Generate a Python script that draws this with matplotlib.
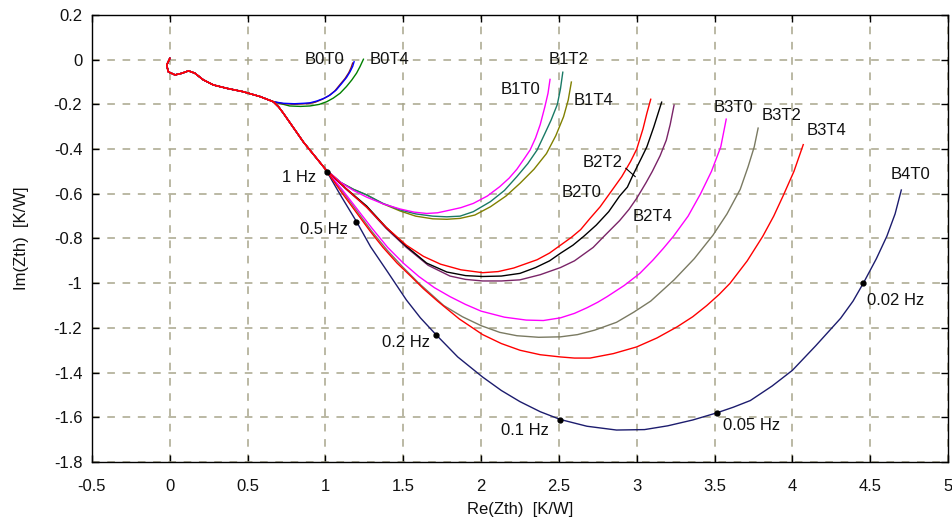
import matplotlib
matplotlib.use("Agg")
import matplotlib.pyplot as plt

plt.rcParams['font.family'] = ['Liberation Sans', 'DejaVu Sans']

# shared low-impedance start (common to all curves)
start_re = [0.0, -0.02, -0.01, 0.033, 0.076, 0.12, 0.16, 0.215, 0.28, 0.366, 0.47, 0.58, 0.665]
start_im = [0.006, -0.024, -0.054, -0.068, -0.061, -0.05, -0.06, -0.09, -0.113, -0.128, -0.143, -0.165, -0.188]

# common descending trunk for B1..B4
trunk_re = [0.70, 0.73, 0.79, 0.86, 0.93]
trunk_im = [-0.212, -0.24, -0.30, -0.37, -0.43]

b0t0_re = [0.73, 0.80, 0.86, 0.90, 0.944, 0.99, 1.03, 1.07, 1.105, 1.135, 1.158, 1.175, 1.184]
b0t0_im = [-0.195, -0.197, -0.195, -0.193, -0.185, -0.173, -0.158, -0.135, -0.106, -0.08, -0.054, -0.03, -0.009]
b0t2_re = [0.73, 0.80, 0.85, 0.89, 0.935, 0.98, 1.02, 1.06, 1.095, 1.125, 1.15, 1.165, 1.175]
b0t2_im = [-0.197, -0.199, -0.198, -0.196, -0.19, -0.177, -0.162, -0.14, -0.11, -0.085, -0.058, -0.035, -0.015]
b0t4_re = [0.77, 0.84, 0.90, 0.96, 1.008, 1.05, 1.094, 1.135, 1.169, 1.20, 1.222, 1.244]
b0t4_im = [-0.207, -0.209, -0.207, -0.20, -0.188, -0.172, -0.15, -0.12, -0.091, -0.06, -0.031, 0.002]

b1t0_re = [1.0, 1.1, 1.18, 1.265, 1.37, 1.48, 1.57, 1.65, 1.72, 1.78, 1.87, 1.95, 2.04, 2.12, 2.18, 2.23,
           2.28, 2.315, 2.35, 2.38, 2.41, 2.43, 2.443]
b1t0_im = [-0.49, -0.55, -0.585, -0.615, -0.645, -0.668, -0.682, -0.688, -0.685, -0.676, -0.662, -0.643, -0.61,
           -0.568, -0.53, -0.49, -0.44, -0.404, -0.35, -0.29, -0.21, -0.15, -0.088]
b1t2_re = [1.0, 1.1, 1.18, 1.265, 1.37, 1.48, 1.58, 1.69, 1.78, 1.865, 1.95, 2.06, 2.15, 2.23, 2.30, 2.36,
           2.41, 2.45, 2.49, 2.51, 2.525]
b1t2_im = [-0.49, -0.55, -0.58, -0.605, -0.643, -0.672, -0.69, -0.70, -0.703, -0.70, -0.68, -0.635, -0.585,
           -0.523, -0.465, -0.404, -0.33, -0.27, -0.20, -0.13, -0.056]
b1t4_re = [1.0, 1.1, 1.18, 1.265, 1.37, 1.48, 1.58, 1.69, 1.78, 1.865, 1.96, 2.06, 2.16, 2.25, 2.34, 2.42,
           2.48, 2.53, 2.56, 2.58]
b1t4_im = [-0.49, -0.55, -0.58, -0.605, -0.645, -0.677, -0.70, -0.712, -0.714, -0.71, -0.695, -0.658, -0.61,
           -0.553, -0.49, -0.42, -0.34, -0.255, -0.18, -0.10]

b2t0_re = [1.0, 1.13, 1.265, 1.39, 1.52, 1.63, 1.74, 1.87, 2.01, 2.11, 2.21, 2.36, 2.44, 2.51, 2.58, 2.64,
           2.70, 2.765, 2.83, 2.904, 2.96, 3.0, 3.04, 3.065, 3.09]
b2t0_im = [-0.49, -0.575, -0.66, -0.75, -0.83, -0.88, -0.915, -0.94, -0.953, -0.948, -0.932, -0.895, -0.865,
           -0.83, -0.795, -0.76, -0.71, -0.658, -0.595, -0.523, -0.456, -0.40, -0.31, -0.24, -0.177]
b2t2_re = [1.0, 1.13, 1.265, 1.39, 1.52, 1.65, 1.78, 1.90, 2.01, 2.13, 2.25, 2.35, 2.44, 2.51, 2.59, 2.66,
           2.74, 2.82, 2.89, 2.94, 2.98, 3.03, 3.065, 3.11, 3.16]
b2t2_im = [-0.49, -0.575, -0.655, -0.75, -0.835, -0.91, -0.95, -0.966, -0.97, -0.968, -0.956, -0.93, -0.90,
           -0.866, -0.83, -0.79, -0.74, -0.68, -0.61, -0.57, -0.51, -0.44, -0.39, -0.30, -0.19]
b2t4_re = [1.0, 1.13, 1.265, 1.39, 1.52, 1.66, 1.80, 1.90, 2.01, 2.13, 2.25, 2.38, 2.51, 2.60, 2.72, 2.79,
           2.89, 2.95, 3.0, 3.06, 3.10, 3.15, 3.19, 3.215, 3.24]
b2t4_im = [-0.49, -0.578, -0.66, -0.755, -0.84, -0.92, -0.968, -0.983, -0.99, -0.99, -0.985, -0.962, -0.93,
           -0.90, -0.84, -0.79, -0.72, -0.67, -0.62, -0.55, -0.50, -0.43, -0.36, -0.29, -0.203]

b3t0_re = [1.0, 1.1, 1.2, 1.3, 1.4, 1.5, 1.6, 1.70, 1.80, 1.90, 2.0, 2.15, 2.29, 2.40, 2.51, 2.60, 2.68,
           2.75, 2.81, 2.92, 3.02, 3.105, 3.17, 3.236, 3.33, 3.41, 3.48, 3.54, 3.575]
b3t0_im = [-0.49, -0.575, -0.665, -0.755, -0.84, -0.91, -0.97, -1.02, -1.06, -1.095, -1.125, -1.152, -1.165,
           -1.167, -1.155, -1.135, -1.11, -1.085, -1.06, -1.01, -0.956, -0.896, -0.845, -0.79, -0.70, -0.60,
           -0.50, -0.39, -0.266]
b3t2_re = [1.0, 1.1, 1.2, 1.3, 1.4, 1.5, 1.6, 1.68, 1.76, 1.88, 2.0, 2.12, 2.23, 2.37, 2.51, 2.62, 2.73,
           2.87, 2.98, 3.09, 3.24, 3.37, 3.49, 3.58, 3.665, 3.715, 3.755, 3.78]
b3t2_im = [-0.49, -0.58, -0.675, -0.77, -0.855, -0.93, -1.0, -1.05, -1.10, -1.15, -1.19, -1.22, -1.235,
           -1.242, -1.24, -1.23, -1.21, -1.175, -1.13, -1.08, -0.985, -0.89, -0.785, -0.69, -0.58, -0.48,
           -0.39, -0.306]
b3t4_re = [1.0, 1.1, 1.2, 1.29, 1.37, 1.46, 1.55, 1.63, 1.72, 1.86, 2.01, 2.13, 2.25, 2.38, 2.51, 2.60,
           2.70, 2.85, 3.0, 3.13, 3.26, 3.36, 3.45, 3.53, 3.60, 3.71, 3.81, 3.88, 3.94, 4.01, 4.07]
b3t4_im = [-0.49, -0.59, -0.685, -0.77, -0.84, -0.91, -0.97, -1.025, -1.08, -1.16, -1.23, -1.27, -1.30,
           -1.32, -1.33, -1.335, -1.335, -1.315, -1.285, -1.245, -1.195, -1.15, -1.10, -1.05, -1.0, -0.90,
           -0.79, -0.70, -0.61, -0.50, -0.38]

b4t0_re = [1.0, 1.1, 1.2, 1.29, 1.40, 1.52, 1.61, 1.71, 1.85, 2.01, 2.13, 2.25, 2.38, 2.51, 2.68, 2.87,
           3.05, 3.2, 3.36, 3.515, 3.62, 3.73, 3.87, 4.0, 4.15, 4.31, 4.39, 4.456, 4.54, 4.607, 4.66, 4.70]
b4t0_im = [-0.49, -0.61, -0.725, -0.837, -0.95, -1.075, -1.155, -1.23, -1.33, -1.42, -1.48, -1.53, -1.575,
           -1.61, -1.64, -1.657, -1.655, -1.638, -1.612, -1.58, -1.555, -1.525, -1.46, -1.39, -1.28, -1.157,
           -1.08, -1.0, -0.89, -0.79, -0.69, -0.583]

freq_labels = ["1 Hz", "0.5 Hz", "0.2 Hz", "0.1 Hz", "0.05 Hz", "0.02 Hz"]
freq_re = [1.007, 1.197, 1.71, 2.51, 3.515, 4.456]
freq_im = [-0.504, -0.725, -1.23, -1.61, -1.579, -1.0]

x_ticks = [-0.5, 0, 0.5, 1, 1.5, 2, 2.5, 3, 3.5, 4, 4.5, 5]
x_ticklabels = ["-0.5", "0", "0.5", "1", "1.5", "2", "2.5", "3", "3.5", "4", "4.5", "5"]
y_ticks = [0.2, 0, -0.2, -0.4, -0.6, -0.8, -1, -1.2, -1.4, -1.6, -1.8]
y_ticklabels = ["0.2", "0", "-0.2", "-0.4", "-0.6", "-0.8", "-1", "-1.2", "-1.4", "-1.6", "-1.8"]

fig = plt.figure(figsize=(9.53, 5.20), dpi=100)
ax = fig.add_axes([92/953, 58/520, 856/953, 447/520])

lw = 1.0
# B0 group
ax.plot(start_re + b0t4_re, start_im + b0t4_im, color='#008000', lw=lw)
ax.plot(start_re + b0t2_re, start_im + b0t2_im, color='#8b1a1a', lw=lw)
ax.plot(start_re + b0t0_re, start_im + b0t0_im, color='#0000ff', lw=lw)

def branch(r, i):
    return start_re + trunk_re + r, start_im + trunk_im + i

series = [
    (b4t0_re, b4t0_im, '#1c1c6e'),
    (b3t2_re, b3t2_im, '#7a7a62'),
    (b3t0_re, b3t0_im, '#ff00ff'),
    (b2t4_re, b2t4_im, '#7a2468'),
    (b2t2_re, b2t2_im, '#000000'),
    (b1t4_re, b1t4_im, '#808000'),
    (b1t2_re, b1t2_im, '#1a7a66'),
    (b1t0_re, b1t0_im, '#ff00ff'),
    (b3t4_re, b3t4_im, '#ff0000'),
    (b2t0_re, b2t0_im, '#ff0000'),
]
for r, i, c in series:
    xr, yi = branch(r, i)
    ax.plot(xr, yi, color=c, lw=lw)

ax.plot(freq_re, freq_im, 'o', color='black', ms=3.5, zorder=5)

fs = 12
tx = dict(fontsize=fs, color='#111111')
# curve labels
ax.text(0.997, -0.001, "B0T0", ha='center', va='center', **tx)
ax.text(1.287, 0.0, "B0T4", ha='left', va='center', **tx)
ax.text(2.56, 0.0, "B1T2", ha='center', va='center', **tx)
ax.text(2.25, -0.133, "B1T0", ha='center', va='center', **tx)
ax.text(2.72, -0.183, "B1T4", ha='center', va='center', **tx)
ax.text(2.78, -0.46, "B2T2", ha='center', va='center', **tx)
ax.plot([2.93, 2.99], [-0.486, -0.523], color='black', lw=0.8)
ax.text(2.647, -0.594, "B2T0", ha='center', va='center', **tx)
ax.text(3.10, -0.70, "B2T4", ha='center', va='center', **tx)
ax.text(3.62, -0.214, "B3T0", ha='center', va='center', **tx)
ax.text(3.93, -0.25, "B3T2", ha='center', va='center', **tx)
ax.text(4.22, -0.317, "B3T4", ha='center', va='center', **tx)
ax.text(4.757, -0.514, "B4T0", ha='center', va='center', **tx)

# frequency labels
ax.text(0.94, -0.525, freq_labels[0], ha='right', va='center', **tx)
ax.text(1.145, -0.76, freq_labels[1], ha='right', va='center', **tx)
ax.text(1.67, -1.265, freq_labels[2], ha='right', va='center', **tx)
ax.text(2.28, -1.66, freq_labels[3], ha='center', va='center', **tx)
ax.text(3.554, -1.637, freq_labels[4], ha='left', va='center', **tx)
ax.text(4.48, -1.077, freq_labels[5], ha='left', va='center', **tx)

ax.set_xlim(-0.5, 5)
ax.set_ylim(-1.8, 0.2)
ax.set_xticks(x_ticks)
ax.set_xticklabels(x_ticklabels)
ax.set_yticks(y_ticks)
ax.set_yticklabels(y_ticklabels)
ax.tick_params(direction='in', top=True, right=True, length=5, width=1,
               labelsize=12, colors='black', labelcolor='#111111')
ax.tick_params(axis='x', pad=12)
ax.tick_params(axis='y', pad=7)
ax.grid(True, color='#a8a68c', linestyle=(0, (5, 5)), lw=1.1)
for s in ax.spines.values():
    s.set_linewidth(1.0)
    s.set_color('black')

ax.set_xlabel("Re(Zth)  [K/W]", fontsize=12, labelpad=6, color='#111111')
ax.set_ylabel("Im(Zth)  [K/W]", fontsize=12, labelpad=18, color='#111111')

fig.savefig("out.png", dpi=100)
